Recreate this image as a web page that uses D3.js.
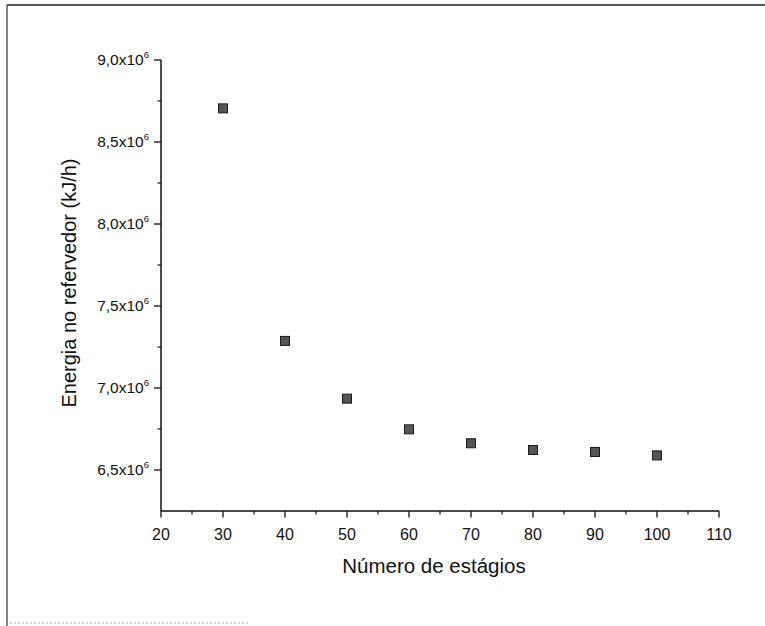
<!DOCTYPE html>
<html>
<head>
<meta charset="utf-8">
<script src="https://cdn.jsdelivr.net/npm/d3@7"></script>
<style>
  body { margin: 0; background: #fff; }
  text { font-family: "Liberation Sans", Arial, sans-serif; fill: #111; }
</style>
</head>
<body>
<div class="canvas"></div>
<script>
// data
const stages = [30, 40, 50, 60, 70, 80, 90, 100];
const energy = [8.705e6, 7.287e6, 6.935e6, 6.748e6, 6.663e6, 6.622e6, 6.61e6, 6.589e6];
const xTicks = [20, 30, 40, 50, 60, 70, 80, 90, 100, 110];
const yTicks = [6.5e6, 7.0e6, 7.5e6, 8.0e6, 8.5e6, 9.0e6];

const width = 765;
const height = 626;

const svg = d3
  .select(".canvas")
  .append("svg")
  .attr("width", width)
  .attr("height", height);

// scanned page frame
svg.append("line")
  .attr("x1", 7).attr("y1", 5).attr("x2", width).attr("y2", 5)
  .attr("stroke", "#222").attr("stroke-width", 1.5);
svg.append("line")
  .attr("x1", 7).attr("y1", 5).attr("x2", 7).attr("y2", height)
  .attr("stroke", "#333").attr("stroke-width", 1.2);
svg.append("line")
  .attr("x1", 10).attr("y1", 623).attr("x2", 250).attr("y2", 623)
  .attr("stroke", "#999").attr("stroke-width", 0.8)
  .attr("stroke-dasharray", "2,2");

const xScale = d3.scaleLinear().domain([20, 110]).range([161, 719]);
const yScale = d3.scaleLinear().domain([6.25e6, 9.0e6]).range([511, 60]);

// x axis
const xAxis = svg.append("g").attr("transform", "translate(0,511)");
xAxis.append("line")
  .attr("x1", xScale(20)).attr("x2", xScale(110))
  .attr("stroke", "#111").attr("stroke-width", 1.5);
xAxis.selectAll(".minor")
  .data(d3.range(25, 110, 10))
  .enter().append("line")
  .attr("x1", d => xScale(d)).attr("x2", d => xScale(d))
  .attr("y1", 0).attr("y2", 3.5)
  .attr("stroke", "#111").attr("stroke-width", 1.2);
xAxis.selectAll(".major")
  .data(xTicks)
  .enter().append("line")
  .attr("x1", d => xScale(d)).attr("x2", d => xScale(d))
  .attr("y1", 0).attr("y2", 6.5)
  .attr("stroke", "#111").attr("stroke-width", 1.3);
xAxis.selectAll("text")
  .data(xTicks)
  .enter().append("text")
  .attr("x", d => xScale(d))
  .attr("y", 29)
  .attr("text-anchor", "middle")
  .attr("font-size", 16)
  .text(d => d);

// y axis
const yAxis = svg.append("g").attr("transform", "translate(161,0)");
yAxis.append("line")
  .attr("y1", yScale(6.25e6)).attr("y2", yScale(9.0e6))
  .attr("stroke", "#111").attr("stroke-width", 1.5);
yAxis.selectAll(".minor")
  .data(d3.range(6.75e6, 9.0e6, 0.5e6))
  .enter().append("line")
  .attr("y1", d => yScale(d)).attr("y2", d => yScale(d))
  .attr("x1", 0).attr("x2", -3.5)
  .attr("stroke", "#111").attr("stroke-width", 1.2);
yAxis.selectAll(".major")
  .data(yTicks)
  .enter().append("line")
  .attr("y1", d => yScale(d)).attr("y2", d => yScale(d))
  .attr("x1", 0).attr("x2", -7)
  .attr("stroke", "#111").attr("stroke-width", 1.3);
const yLab = yAxis.selectAll("text")
  .data(yTicks)
  .enter().append("text")
  .attr("x", -12)
  .attr("y", d => yScale(d) + 5)
  .attr("text-anchor", "end")
  .attr("font-size", 15.5);
yLab.append("tspan").text(d => d3.format(".1f")(d / 1e6).replace(".", ",") + "x10");
yLab.append("tspan").attr("font-size", 9.5).attr("dy", -7).text("6");

// axis titles
svg.append("text")
  .attr("x", 434)
  .attr("y", 573)
  .attr("text-anchor", "middle")
  .attr("font-size", 20.5)
  .text("Número de estágios");

svg.append("text")
  .attr("transform", "translate(76,283) rotate(-90)")
  .attr("text-anchor", "middle")
  .attr("font-size", 20)
  .text("Energia no refervedor (kJ/h)");

// points
svg.selectAll(".pt")
  .data(stages)
  .enter().append("rect")
  .attr("x", (d, i) => xScale(d) - 4.5)
  .attr("y", (d, i) => yScale(energy[i]) - 4.5)
  .attr("width", 9)
  .attr("height", 9)
  .attr("fill", "#555")
  .attr("stroke", "#1a1a1a")
  .attr("stroke-width", 1);
</script>
</body>
</html>
